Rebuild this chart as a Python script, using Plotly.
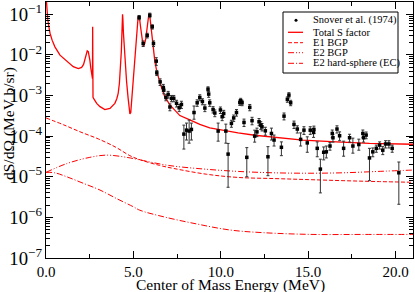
import plotly.graph_objects as go

# ---------------- data ----------------
# Snover et al. (1974) measurements: E (MeV), dS/dOmega (MeV b/sr), error up / down
E_data = [5.33, 5.56, 5.79, 5.94, 6.08, 6.15, 6.31, 6.34, 6.53, 6.71, 6.74, 6.86, 6.99, 7.09,
          7.18, 7.31, 7.47, 7.62, 7.75, 7.89, 8.04, 8.19, 8.32, 8.47, 8.65, 8.80, 8.95, 9.09,
          9.27, 9.31, 9.37, 9.56, 9.66, 9.85, 9.98, 10.08, 10.17, 10.29, 10.42, 10.61, 10.74,
          10.90, 11.09, 11.14, 11.22, 11.33, 11.49, 11.66, 11.79, 11.94, 12.07, 12.19, 12.29,
          12.36, 12.55, 12.70, 12.90, 13.05, 13.47, 13.62, 13.81, 13.90, 14.00, 14.19, 14.38,
          14.57, 14.76, 14.95, 15.12, 15.31, 15.33, 15.52, 15.70, 15.89, 16.04, 16.25, 16.38,
          16.42, 16.65, 16.80, 17.03, 17.37, 17.56, 17.90, 18.13, 18.17, 18.32, 18.51, 18.70,
          18.90, 19.09, 19.27, 19.43, 19.62, 19.81, 20.19]
S_data = [0.083, 0.019, 0.030, 0.094, 0.049, 0.019, 0.0070, 0.0036, 0.00216, 0.00157, 0.00135,
          8.9e-4, 1.06e-3, 5.2e-4, 8.5e-4, 8.5e-4, 6.4e-4, 5.0e-4, 6.0e-4, 1.12e-4, 1.40e-4,
          1.33e-4, 1.46e-4, 3.8e-4, 6.6e-4, 8.9e-4, 7.1e-4, 4.9e-4, 1.43e-3, 1.08e-3, 6.6e-4,
          4.5e-4, 3.7e-4, 1.33e-4, 4.4e-4, 3.0e-4, 3.6e-4, 1.33e-4, 3.6e-5, 2.05e-4, 2.8e-4,
          3.8e-4, 6.7e-4, 7.4e-4, 6.6e-4, 2.17e-4, 3.0e-5, 5.1e-4, 2.4e-4, 1.0e-4, 1.27e-4,
          2.25e-4, 1.86e-4, 1.69e-4, 1.35e-4, 3.1e-5, 1.16e-4, 8.0e-5, 5.3e-5, 3.1e-4, 8.0e-4,
          1.02e-3, 6.6e-4, 1.94e-4, 1.49e-4, 8.3e-5, 1.40e-4, 6.8e-5, 1.40e-4, 1.23e-4, 1.46e-4,
          5.0e-5, 1.54e-5, 4.0e-5, 4.1e-5, 5.7e-5, 1.16e-4, 9.1e-5, 1.49e-4, 1.02e-4, 5.0e-5,
          9.1e-5, 5.7e-5, 6.2e-5, 1.16e-4, 9.1e-5, 1.06e-4, 2.9e-5, 4.1e-5, 5.0e-5, 6.0e-5,
          4.5e-5, 6.4e-5, 6.4e-5, 5.0e-5, 1.25e-5]
S_err_up = [0.010, 0.003, 0.004, 0.012, 0.006, 0.003, 0.0015, 0.0005, 0.0004, 0.0003, 0.00025,
            1.5e-4, 2.0e-4, 1.0e-4, 1.5e-4, 1.5e-4, 1.2e-4, 1.0e-4, 1.2e-4, 0.74e-4, 0.69e-4,
            1.14e-4, 0.63e-4, 1.7e-4, 1.2e-4, 1.5e-4, 1.2e-4, 1.0e-4, 2.0e-4, 1.8e-4, 1.2e-4,
            0.8e-4, 0.7e-4, 0.76e-4, 0.8e-4, 0.6e-4, 0.7e-4, 0.64e-4, 3.0e-5, 0.4e-4, 0.5e-4,
            0.7e-4, 1.0e-4, 1.1e-4, 1.0e-4, 0.45e-4, 2.2e-5, 0.9e-4, 0.5e-4, 0.4e-4, 0.3e-4,
            0.45e-4, 0.4e-4, 0.35e-4, 0.3e-4, 2.4e-5, 0.41e-4, 2.6e-5, 1.9e-5, 0.6e-4, 1.2e-4,
            1.5e-4, 1.0e-4, 0.4e-4, 0.3e-4, 3.7e-5, 0.3e-4, 2.8e-5, 0.3e-4, 0.3e-4, 0.3e-4,
            2.2e-5, 1.16e-5, 1.4e-5, 1.6e-5, 1.2e-5, 0.25e-4, 0.2e-4, 0.3e-4, 0.25e-4, 2.5e-5,
            0.2e-4, 3.2e-5, 2.2e-5, 0.25e-4, 0.2e-4, 0.2e-4, 2.1e-5, 1.0e-5, 1.0e-5, 1.2e-5,
            1.0e-5, 1.3e-5, 1.3e-5, 1.0e-5, 1.05e-5]
S_err_down = [0.010, 0.003, 0.004, 0.012, 0.006, 0.003, 0.0015, 0.0005, 0.0004, 0.0003, 0.00025,
              1.5e-4, 2.0e-4, 1.0e-4, 1.5e-4, 1.5e-4, 1.2e-4, 1.0e-4, 1.2e-4, 0.64e-4, 0.60e-4,
              0.66e-4, 0.66e-4, 1.2e-4, 1.2e-4, 1.5e-4, 1.2e-4, 0.9e-4, 2.0e-4, 1.8e-4, 1.2e-4,
              0.8e-4, 0.7e-4, 0.58e-4, 0.8e-4, 0.6e-4, 0.7e-4, 0.66e-4, 3.05e-5, 0.4e-4, 0.5e-4,
              0.7e-4, 1.0e-4, 1.1e-4, 1.0e-4, 0.45e-4, 2.0e-5, 0.9e-4, 0.5e-4, 0.29e-4, 0.3e-4,
              0.45e-4, 0.4e-4, 0.35e-4, 0.3e-4, 2.04e-5, 0.36e-4, 2.3e-5, 2.0e-5, 0.6e-4, 1.2e-4,
              1.5e-4, 1.0e-4, 0.4e-4, 0.3e-4, 2.6e-5, 0.3e-4, 2.8e-5, 0.3e-4, 0.3e-4, 0.3e-4,
              1.9e-5, 1.14e-5, 1.4e-5, 1.2e-5, 1.2e-5, 0.25e-4, 0.2e-4, 0.3e-4, 0.25e-4, 1.8e-5,
              0.2e-4, 1.9e-5, 1.7e-5, 0.25e-4, 0.2e-4, 0.2e-4, 2.1e-5, 1.0e-5, 1.0e-5, 1.2e-5,
              1.0e-5, 1.3e-5, 1.3e-5, 1.0e-5, 1.04e-5]

# Total S factor (solid)
E_total = [0.0, 0.05, 0.1, 0.16, 0.23, 0.35, 0.51, 0.8, 1.18, 1.56, 1.85, 2.04, 2.15, 2.23,
           2.30, 2.36, 2.42, 2.47, 2.51, 2.56, 2.61, 2.66, 2.67, 2.69, 2.74, 2.9, 3.09, 3.37,
           3.66, 3.94, 4.05, 4.13, 4.20, 4.27, 4.31, 4.34, 4.36, 4.38, 4.40, 4.43, 4.47, 4.51,
           4.56, 4.61, 4.70, 4.76, 4.80, 4.85, 4.90, 4.99, 5.05, 5.09, 5.14, 5.18, 5.23, 5.27,
           5.31, 5.35, 5.41, 5.46, 5.50, 5.55, 5.60, 5.65, 5.71, 5.76, 5.81, 5.85, 5.89, 5.94,
           5.99, 6.04, 6.10, 6.17, 6.23, 6.32, 6.42, 6.51, 6.71, 6.80, 7.10, 7.66, 8.23,
           8.80, 9.37, 10.04, 10.99, 11.94, 13.09, 14.70, 16.60, 18.51, 21.0]
S_total = [0.3, 0.13, 0.075, 0.05, 0.034, 0.023, 0.0157, 0.0098, 0.0070, 0.0051, 0.0046, 0.0049,
           0.0058, 0.0074, 0.0098, 0.0125, 0.012, 0.0095, 0.0074, 0.0048, 0.0032, 0.0026, 0.049,
           0.0009, 8.2e-4, 6.4e-4, 5.3e-4, 4.5e-4, 4.8e-4, 6.4e-4, 8.3e-4, 1.12e-3, 2.0e-3,
           5.0e-3, 0.012, 0.03, 0.065, 0.1, 0.075, 0.035, 0.018, 0.01, 0.0045, 0.0022, 8.5e-4,
           5.0e-4, 3.5e-4, 3.8e-4, 7.0e-4, 0.0022, 0.0045, 0.0074, 0.016, 0.033, 0.06, 0.085,
           0.094, 0.08, 0.049, 0.03, 0.021, 0.0175, 0.017, 0.019, 0.025, 0.042, 0.07, 0.095,
           0.104, 0.09, 0.055, 0.033, 0.018, 0.0108, 0.0068, 0.0043, 0.0028, 0.0021, 0.00118,
           9.2e-4, 5.8e-4, 3.2e-4, 2.5e-4, 1.94e-4, 1.6e-4, 1.4e-4, 1.2e-4, 1.05e-4, 9.3e-5,
           8.0e-5, 7.2e-5, 6.6e-5, 6.3e-5]

# E1 BGP (dashed)
E_e1 = [0.0, 1.0, 2.0, 3.0, 4.0, 4.8, 5.4, 6.5, 7.3, 9.2, 11.0, 13.1, 15.0, 17.0, 19.0, 21.0]
S_e1 = [2.8e-4, 1.9e-4, 1.25e-4, 8.5e-5, 5.3e-5, 3.3e-5, 2.6e-5, 1.9e-5, 1.6e-5, 1.15e-5,
        9.6e-6, 9.0e-6, 8.5e-6, 8.0e-6, 7.6e-6, 7.3e-6]

# E2 BGP (dash-dot-dot)
E_e2 = [0.0, 1.18, 2.51, 3.47, 4.61, 5.37, 7.0, 9.0, 11.0, 13.0, 15.0, 17.0, 19.0, 21.0]
S_e2 = [1.28e-5, 2.1e-5, 3.0e-5, 3.4e-5, 3.0e-5, 2.6e-5, 1.9e-5, 1.55e-5, 1.35e-5, 1.25e-5,
        1.22e-5, 1.25e-5, 1.35e-5, 1.46e-5]

# E2 hard-sphere (EC) (dash-dot)
E_hs = [0.0, 0.5, 1.18, 2.13, 3.09, 4.04, 4.99, 5.37, 6.7, 8.61, 10.51, 12.42, 15.28, 18.13, 21.0]
S_hs = [1.28e-5, 1.25e-5, 1.0e-5, 6.9e-6, 4.7e-6, 2.9e-6, 1.83e-6, 1.5e-6, 1.04e-6, 6.9e-7,
        4.9e-7, 4.2e-7, 3.8e-7, 3.8e-7, 3.8e-7]

x_ticks = [0, 5, 10, 15, 20]
x_tick_labels = ["0.0", "5.0", "10.0", "15.0", "20.0"]

legend_labels = ["Snover et al. (1974)", "Total S factor", "E1 BGP", "E2 BGP",
                 "E2 hard-sphere (EC)"]

# ---------------- styles ----------------
RED = "#ff0000"
FONT = "Liberation Serif"
DASH_E1 = "4px,2px"
DASH_E2 = "6px,2px,1px,2px,1px,2px"
DASH_HS = "6px,2px,1px,2px"

W, H = 415, 292
L, R, T, B = 46, 2, 2, 34

fig = go.Figure()

fig.add_trace(go.Scatter(x=E_total, y=S_total, mode="lines",
                         line=dict(color=RED, width=1.3), showlegend=False))
fig.add_trace(go.Scatter(x=E_e1, y=S_e1, mode="lines", line_shape="spline",
                         line=dict(color=RED, width=1, dash=DASH_E1), showlegend=False))
fig.add_trace(go.Scatter(x=E_e2, y=S_e2, mode="lines", line_shape="spline",
                         line=dict(color=RED, width=1, dash=DASH_E2), showlegend=False))
fig.add_trace(go.Scatter(x=E_hs, y=S_hs, mode="lines", line_shape="spline",
                         line=dict(color=RED, width=1, dash=DASH_HS), showlegend=False))
fig.add_trace(go.Scatter(x=E_data, y=S_data, mode="markers",
                         marker=dict(color="black", size=3.5, symbol="square"),
                         error_y=dict(type="data", symmetric=False, array=S_err_up,
                                      arrayminus=S_err_down, color="#333333",
                                      thickness=1, width=1.5),
                         showlegend=False))

axis_common = dict(showline=True, linecolor="black", linewidth=1, mirror="allticks",
                   ticks="inside", tickcolor="black", showgrid=False, zeroline=False,
                   automargin=False,
                   tickfont=dict(family=FONT, size=15, color="black"))

fig.update_xaxes(range=[0, 21], tickvals=x_ticks, ticktext=x_tick_labels, ticklen=7,
                 minor=dict(ticks="inside", dtick=2.5, tick0=0, ticklen=4,
                            tickcolor="black", showgrid=False),
                 **axis_common)
fig.update_yaxes(type="log", range=[-7, -0.7], dtick=1, exponentformat="power",
                 showexponent="all", ticklen=7,
                 minor=dict(ticks="inside", dtick="D1", ticklen=4, tickcolor="black",
                            showgrid=False),
                 **axis_common)

pw = W - L - R
ph = H - T - B


def px(xp):
    return (xp - L) / pw


def py(yp):
    return (H - B - yp) / ph


annotations = [
    dict(text="Center of Mass Energy (MeV)", xref="paper", yref="paper",
         x=px(230), y=py(285), xanchor="center", yanchor="middle", showarrow=False,
         font=dict(family=FONT, size=15.5, color="black")),
    dict(text="dS/dΩ (MeV b/sr)", xref="paper", yref="paper", textangle=-90,
         x=px(9), y=py(124), xanchor="center", yanchor="middle", showarrow=False,
         font=dict(family=FONT, size=15.5, color="black")),
]

# legend (drawn manually to keep the compact spacing of the original)
rows = [20.3, 32.3, 42.7, 52.7, 63.3]
shapes = [dict(type="rect", xref="paper", yref="paper", x0=px(283), x1=px(398),
               y0=py(73), y1=py(12), line=dict(color="black", width=1),
               fillcolor="white", layer="above")]
shapes.append(dict(type="circle", xref="paper", yref="paper", x0=px(294.5), x1=px(297.5),
                   y0=py(rows[0] + 1.5), y1=py(rows[0] - 1.5), fillcolor="black",
                   line=dict(color="black", width=0), layer="above"))
for r, d, wdt in zip(rows[1:], ["solid", DASH_E1, DASH_E2, DASH_HS], [1.3, 1, 1, 1]):
    shapes.append(dict(type="line", xref="paper", yref="paper", x0=px(288), x1=px(303),
                       y0=py(r), y1=py(r), line=dict(color=RED, width=wdt, dash=d),
                       layer="above"))
for r, lab in zip(rows, legend_labels):
    annotations.append(dict(text=lab, xref="paper", yref="paper", x=px(310.5), y=py(r),
                            xanchor="left", yanchor="middle", showarrow=False,
                            font=dict(family=FONT, size=10.5, color="black")))

fig.update_layout(width=W, height=H, margin=dict(l=L, r=R, t=T, b=B),
                  paper_bgcolor="white", plot_bgcolor="white",
                  font=dict(family=FONT, color="black"),
                  annotations=annotations, shapes=shapes, showlegend=False)

fig.write_html("out.html", config={"displayModeBar": False, "staticPlot": True},
               post_script="document.body.style.margin='0';"
                           "document.body.style.padding='0';")
